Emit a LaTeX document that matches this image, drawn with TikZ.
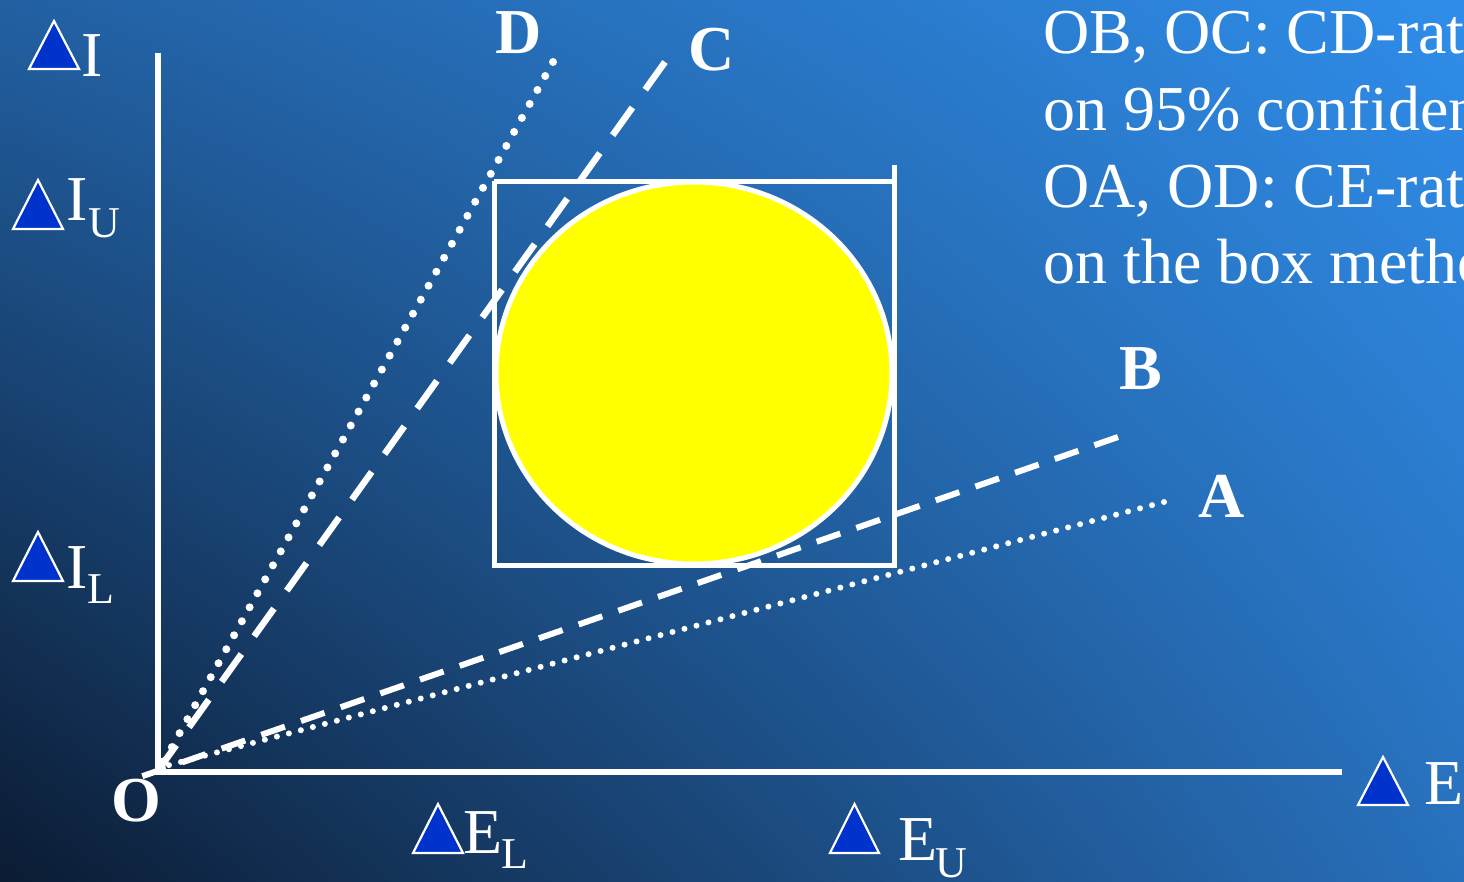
\documentclass[tikz,border=0pt]{standalone}
\usepackage{fontspec}
\setmainfont{Liberation Serif}
\usetikzlibrary{shapes.geometric,shadings}
\definecolor{bgLL}{HTML}{0B1B32}
\definecolor{bgUR}{HTML}{2F8DE9}
\definecolor{bgUL}{HTML}{2260A2}
\definecolor{bgLR}{HTML}{2870BC}
\definecolor{triblue}{HTML}{0033CC}
\definecolor{sunyellow}{HTML}{FFFF00}
\tikzset{
  big/.style={font=\fontsize{64}{77}\selectfont, text=white, inner sep=0pt, anchor=base west},
  bigb/.style={font=\fontsize{64}{77}\selectfont\bfseries, text=white, inner sep=0pt, anchor=base west},
  sub/.style={font=\fontsize{44}{50}\selectfont, text=white, inner sep=0pt, anchor=base west},
  tri/.style={fill=triblue, draw=white, line width=2.2pt, line join=miter},
  axis/.style={draw=white, line width=6pt},
  boxline/.style={draw=white, line width=5pt},
  dashC/.style={draw=white, line width=6.5pt, dash pattern=on 34pt off 22pt},
  dashB/.style={draw=white, line width=6pt, dash pattern=on 25pt off 17pt},
  dotD/.style={draw=white, line width=8pt, line cap=round, dash pattern=on 0pt off 16pt},
  dotA/.style={draw=white, line width=6pt, line cap=round, dash pattern=on 0pt off 12.4pt},
}
\begin{document}
\begin{tikzpicture}[x=1pt,y=-1pt]
\useasboundingbox (0,0) rectangle (1464,881);
\clip (0,0) rectangle (1464,881);
\shade[lower left=bgLL, upper right=bgUR, upper left=bgUL, lower right=bgLR] (0,0) rectangle (1464,881);

% axes
\coordinate (O) at (158,772);
\coordinate (Itop) at (158,53);
\coordinate (Eend) at (1342,772);
\draw[axis] (Itop) -- (158,775);
\draw[axis] (155,772) -- (Eend);

% box and ellipse
\coordinate (bTL) at (494,181);
\coordinate (bBL) at (494,565);
\coordinate (bBR) at (894,565);
\coordinate (bTR) at (894,181);
\coordinate (bTop) at (894,165);
\draw[boxline] (bTL) -- (bBL) -- (bBR) -- (bTop);
\draw[boxline] (bTL) -- (bTR);
\node[ellipse, draw=white, line width=5pt, fill=sunyellow, minimum width=396pt, minimum height=382pt, inner sep=0pt] (sun) at (694,373) {};

% ratio lines
\coordinate (oC) at (157,772);
\coordinate (eC) at (665,62);
\coordinate (oB) at (140,777);
\coordinate (eB) at (1118,437);
\coordinate (oD) at (158,772);
\coordinate (eD) at (553,62);
\coordinate (oA) at (158,768);
\coordinate (eA) at (1164,502);
\draw[dashC] (eC) -- (oC);
\draw[dashB] (eB) -- (oB);
\draw[dotD] (eD) -- (oD);
\draw[dotA] (eA) -- (oA);

% line labels
\node[bigb] (lD) at (495,53) {D};
\node[bigb] (lC) at (688,70) {C};
\node[bigb] (lB) at (1119,389) {B};
\node[bigb] (lA) at (1198,517) {A};
\node[bigb] (lO) at (111,821) {O};

% axis labels with triangles
\draw[tri] (29,69) -- (79,69) -- (54,21) -- cycle;
\node[big] (lI) at (81,76) {I};

\draw[tri] (13,229) -- (63,229) -- (38,180) -- cycle;
\node[big] (lIU) at (66,220) {I};
\node[sub] (lIUs) at (88,237) {U};

\draw[tri] (13,581) -- (63,581) -- (38,532) -- cycle;
\node[big] (lIL) at (66,588) {I};
\node[sub] (lILs) at (87,603) {L};

\draw[tri] (413,853) -- (463,853) -- (438,804) -- cycle;
\node[big] (lEL) at (463,853) {E};
\node[sub] (lELs) at (501,868) {L};

\draw[tri] (830,853) -- (879,853) -- (854.5,804) -- cycle;
\node[big] (lEU) at (898,860) {E};
\node[sub] (lEUs) at (935,877) {U};

\draw[tri] (1358,805) -- (1408,805) -- (1383,757) -- cycle;
\node[big] (lE) at (1424,804) {E};

% explanation text (cut off at the right edge)
\node[big] (t1) at (1043,53) {OB, OC: CD-rat};
\node[big] (t2) at (1043,130) {on 95\% confiden};
\node[big] (t3) at (1043,207) {OA, OD: CE-rat};
\node[big] (t4) at (1043,283) {on the box metho};
\end{tikzpicture}
\end{document}
